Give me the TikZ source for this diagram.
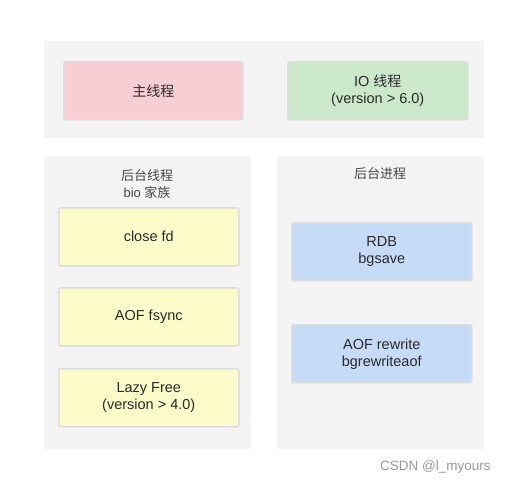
\documentclass[tikz,border=0pt]{standalone}
\usepackage{fontspec}
\setmainfont{Liberation Sans}
\newfontfamily\cjk{Noto Sans CJK SC}
\begin{document}
\begin{tikzpicture}[x=1pt,y=-1pt,
  box/.style={draw=boxborder,line width=1.5pt,rounded corners=2pt,minimum width=180pt,minimum height=58pt,align=center,font=\fontsize{14.5}{17}\selectfont,text=txt,anchor=north west,inner sep=0pt},
  ttl/.style={align=center,font=\fontsize{13}{17}\selectfont,text=ttltxt}]
\definecolor{panelgray}{HTML}{F4F4F4}
\definecolor{boxborder}{HTML}{DDDDDD}
\definecolor{pinkc}{HTML}{F8CDD3}
\definecolor{greenc}{HTML}{CCE8CB}
\definecolor{yellowc}{HTML}{FCFBCA}
\definecolor{bluec}{HTML}{C6DBF8}
\definecolor{txt}{HTML}{2A2A2A}
\definecolor{ttltxt}{HTML}{444444}
\useasboundingbox (0,0) rectangle (532,492);
\fill[white] (0,0) rectangle (532,492);
% panels
\fill[panelgray] (44,41) rectangle (484,138);
\fill[panelgray] (44,156) rectangle (251,449);
\fill[panelgray] (277,156) rectangle (484,449);
% top boxes
\node[box,fill=pinkc,minimum width=179pt] (main) at (63,61) {\cjk\fontsize{14}{17}\selectfont 主线程};
\node[box,fill=greenc] (io) at (287,61) {IO {\cjk\fontsize{14}{17}\selectfont 线程}\\(version > 6.0)};
% left panel
\node[ttl] (bgt) at (147,184) {{\cjk 后台线程}\\bio {\cjk 家族}};
\node[box,fill=yellowc] (close) at (58,207) {close fd};
\node[box,fill=yellowc] (fsync) at (58,287) {AOF fsync};
\node[box,fill=yellowc] (lazy) at (58,368) {Lazy Free\\(version > 4.0)};
% right panel
\node[ttl] (bgp) at (380,174) {\cjk 后台进程};
\node[box,fill=bluec] (rdb) at (291,222) {RDB\\bgsave};
\node[box,fill=bluec] (aofr) at (291,324) {AOF rewrite\\bgrewriteaof};
% watermark
\node[font=\fontsize{13.5}{16}\selectfont,text=black!40,anchor=west,inner sep=0pt] (wm) at (380,467) {CSDN @l\_myours};
\end{tikzpicture}
\end{document}
